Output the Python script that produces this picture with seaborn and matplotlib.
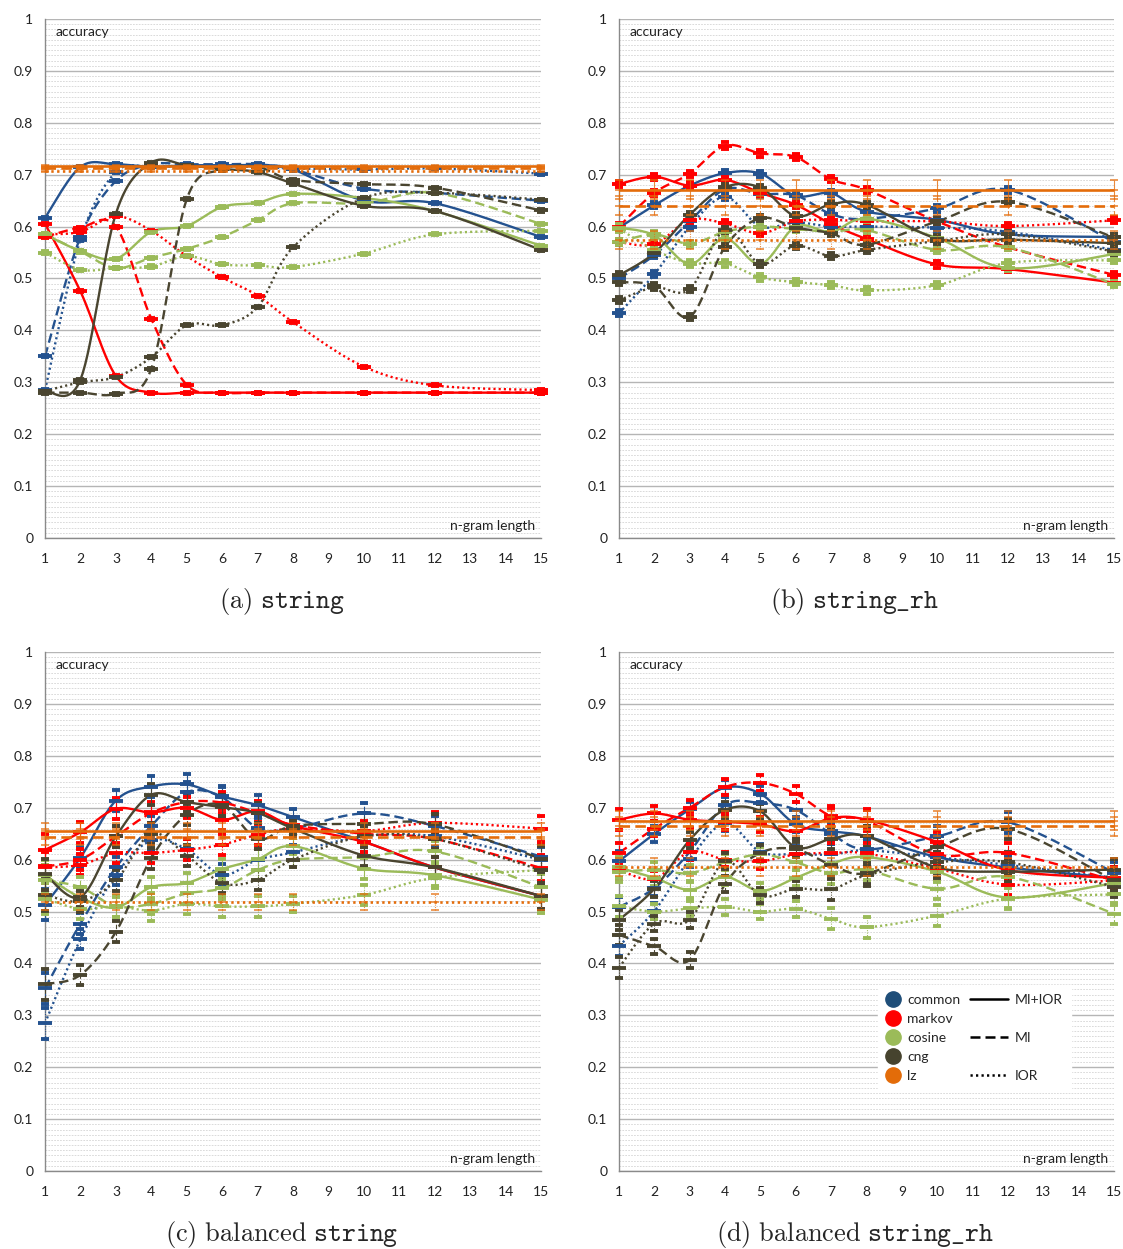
import numpy as np
import pandas as pd
import seaborn as sns
import matplotlib
matplotlib.use("Agg")
import matplotlib.pyplot as plt
from matplotlib.lines import Line2D
from matplotlib.ticker import MultipleLocator, FuncFormatter

# ---------------- data ----------------
NGRAM = [1, 2, 3, 4, 5, 6, 7, 8, 10, 12, 15]
METHODS = ["common", "markov", "cosine", "cng", "lz"]
VARIANTS = ["MI+IOR", "MI", "IOR"]

# panel (a) string
A_COMMON_MIIOR = [0.617, 0.715, 0.72, 0.715, 0.718, 0.718, 0.718, 0.71, 0.65, 0.645, 0.58]
A_COMMON_MI = [0.35, 0.58, 0.688, 0.72, 0.72, 0.72, 0.72, 0.71, 0.673, 0.665, 0.65]
A_COMMON_IOR = [0.285, 0.575, 0.705, 0.715, 0.715, 0.715, 0.715, 0.712, 0.71, 0.712, 0.702]
A_MARKOV_MIIOR = [0.605, 0.475, 0.312, 0.28, 0.28, 0.28, 0.28, 0.28, 0.28, 0.28, 0.28]
A_MARKOV_MI = [0.58, 0.598, 0.60, 0.422, 0.295, 0.28, 0.28, 0.28, 0.28, 0.28, 0.28]
A_MARKOV_IOR = [0.585, 0.59, 0.62, 0.592, 0.543, 0.502, 0.467, 0.416, 0.33, 0.294, 0.285]
A_COSINE_MIIOR = [0.585, 0.553, 0.538, 0.59, 0.601, 0.638, 0.646, 0.663, 0.655, 0.63, 0.563]
A_COSINE_MI = [0.585, 0.552, 0.52, 0.54, 0.557, 0.58, 0.612, 0.645, 0.645, 0.665, 0.605]
A_COSINE_IOR = [0.55, 0.517, 0.52, 0.523, 0.543, 0.527, 0.525, 0.522, 0.548, 0.585, 0.592]
A_CNG_MIIOR = [0.283, 0.305, 0.625, 0.723, 0.718, 0.711, 0.705, 0.683, 0.64, 0.63, 0.555]
A_CNG_MI = [0.28, 0.28, 0.278, 0.326, 0.653, 0.71, 0.715, 0.69, 0.682, 0.675, 0.631]
A_CNG_IOR = [0.283, 0.30, 0.31, 0.348, 0.41, 0.41, 0.445, 0.56, 0.655, 0.665, 0.652]
A_LZ = [0.716, 0.712, 0.708]
A_ERR = [0.002, 0.002, 0.002, 0.002, 0.002, 0.002, 0.002, 0.002, 0.002, 0.002, 0.002]

# panel (b) string_rh
B_COMMON_MIIOR = [0.598, 0.641, 0.679, 0.703, 0.702, 0.659, 0.664, 0.629, 0.613, 0.585, 0.58]
B_COMMON_MI = [0.50, 0.545, 0.61, 0.672, 0.663, 0.66, 0.624, 0.615, 0.635, 0.671, 0.57]
B_COMMON_IOR = [0.433, 0.508, 0.60, 0.657, 0.60, 0.608, 0.60, 0.60, 0.598, 0.59, 0.555]
B_MARKOV_MIIOR = [0.682, 0.696, 0.679, 0.69, 0.665, 0.642, 0.605, 0.576, 0.527, 0.518, 0.492]
B_MARKOV_MI = [0.60, 0.665, 0.702, 0.756, 0.741, 0.734, 0.691, 0.671, 0.61, 0.56, 0.507]
B_MARKOV_IOR = [0.57, 0.566, 0.613, 0.606, 0.587, 0.61, 0.613, 0.61, 0.61, 0.601, 0.612]
B_COSINE_MIIOR = [0.598, 0.583, 0.528, 0.577, 0.528, 0.60, 0.59, 0.615, 0.578, 0.52, 0.547]
B_COSINE_MI = [0.57, 0.585, 0.567, 0.59, 0.60, 0.595, 0.59, 0.593, 0.555, 0.56, 0.489]
B_COSINE_IOR = [0.596, 0.555, 0.53, 0.529, 0.502, 0.493, 0.487, 0.477, 0.487, 0.53, 0.535]
B_CNG_MIIOR = [0.506, 0.549, 0.623, 0.676, 0.675, 0.62, 0.643, 0.642, 0.577, 0.575, 0.568]
B_CNG_MI = [0.493, 0.485, 0.426, 0.561, 0.616, 0.598, 0.587, 0.565, 0.61, 0.648, 0.579]
B_CNG_IOR = [0.458, 0.483, 0.479, 0.594, 0.528, 0.563, 0.543, 0.555, 0.572, 0.585, 0.552]
B_LZ = [0.671, 0.64, 0.574]
B_ERR = [0.006, 0.006, 0.006, 0.006, 0.006, 0.006, 0.006, 0.006, 0.006, 0.006, 0.006]

# panel (c) balanced string
C_COMMON_MIIOR = [0.513, 0.604, 0.714, 0.741, 0.745, 0.722, 0.705, 0.682, 0.635, 0.585, 0.53]
C_COMMON_MI = [0.352, 0.477, 0.585, 0.665, 0.73, 0.72, 0.661, 0.66, 0.689, 0.665, 0.606]
C_COMMON_IOR = [0.285, 0.447, 0.571, 0.637, 0.62, 0.571, 0.60, 0.614, 0.645, 0.645, 0.60]
C_MARKOV_MIIOR = [0.619, 0.653, 0.698, 0.691, 0.70, 0.677, 0.693, 0.665, 0.634, 0.585, 0.53]
C_MARKOV_MI = [0.587, 0.60, 0.645, 0.69, 0.711, 0.71, 0.69, 0.667, 0.65, 0.64, 0.584]
C_MARKOV_IOR = [0.585, 0.59, 0.613, 0.613, 0.619, 0.629, 0.648, 0.66, 0.655, 0.671, 0.66]
C_COSINE_MIIOR = [0.57, 0.527, 0.508, 0.547, 0.555, 0.582, 0.601, 0.626, 0.583, 0.57, 0.523]
C_COSINE_MI = [0.56, 0.547, 0.51, 0.515, 0.535, 0.545, 0.58, 0.60, 0.605, 0.616, 0.547]
C_COSINE_IOR = [0.525, 0.505, 0.51, 0.502, 0.515, 0.51, 0.51, 0.515, 0.532, 0.565, 0.58]
C_CNG_MIIOR = [0.572, 0.528, 0.645, 0.725, 0.711, 0.701, 0.69, 0.66, 0.608, 0.585, 0.53]
C_CNG_MI = [0.36, 0.378, 0.461, 0.603, 0.687, 0.705, 0.64, 0.665, 0.669, 0.668, 0.602]
C_CNG_IOR = [0.532, 0.52, 0.56, 0.65, 0.608, 0.555, 0.561, 0.60, 0.645, 0.64, 0.58]
C_LZ = [0.655, 0.644, 0.518]
C_ERR = [0.03, 0.02, 0.02, 0.02, 0.02, 0.02, 0.02, 0.015, 0.02, 0.02, 0.025]

# panel (d) balanced string_rh
D_COMMON_MIIOR = [0.597, 0.65, 0.697, 0.739, 0.727, 0.668, 0.655, 0.645, 0.605, 0.585, 0.565]
D_COMMON_MI = [0.509, 0.545, 0.615, 0.705, 0.709, 0.696, 0.65, 0.62, 0.645, 0.672, 0.575]
D_COMMON_IOR = [0.434, 0.501, 0.601, 0.67, 0.615, 0.611, 0.61, 0.618, 0.605, 0.59, 0.565]
D_MARKOV_MIIOR = [0.677, 0.689, 0.677, 0.673, 0.668, 0.655, 0.68, 0.677, 0.634, 0.58, 0.565]
D_MARKOV_MI = [0.613, 0.66, 0.70, 0.74, 0.748, 0.727, 0.684, 0.675, 0.61, 0.613, 0.56]
D_MARKOV_IOR = [0.58, 0.563, 0.615, 0.60, 0.597, 0.61, 0.613, 0.612, 0.583, 0.552, 0.56]
D_COSINE_MIIOR = [0.585, 0.565, 0.542, 0.567, 0.54, 0.565, 0.592, 0.605, 0.577, 0.527, 0.555]
D_COSINE_MI = [0.577, 0.58, 0.574, 0.595, 0.61, 0.595, 0.574, 0.58, 0.544, 0.567, 0.496]
D_COSINE_IOR = [0.51, 0.50, 0.506, 0.509, 0.50, 0.505, 0.486, 0.47, 0.492, 0.525, 0.533]
D_CNG_MIIOR = [0.484, 0.544, 0.638, 0.696, 0.693, 0.624, 0.64, 0.645, 0.585, 0.577, 0.581]
D_CNG_MI = [0.455, 0.433, 0.407, 0.553, 0.613, 0.62, 0.59, 0.574, 0.624, 0.659, 0.56]
D_CNG_IOR = [0.392, 0.477, 0.484, 0.597, 0.531, 0.544, 0.543, 0.57, 0.595, 0.595, 0.548]
D_LZ = [0.675, 0.664, 0.586]
D_ERR = [0.02, 0.015, 0.015, 0.015, 0.015, 0.015, 0.02, 0.02, 0.02, 0.02, 0.02]

LZ_ERR = {"a": 0.002, "b": 0.018, "c": 0.015, "d": 0.018}

CAPTIONS = {
    "a": r"$\mathrm{(a)}\ \mathtt{string}$",
    "b": r"$\mathrm{(b)}\ \mathtt{string\_rh}$",
    "c": r"$\mathrm{(c)\ balanced}\ \mathtt{string}$",
    "d": r"$\mathrm{(d)\ balanced}\ \mathtt{string\_rh}$",
}

PANELS = {
    "a": ({"common": [A_COMMON_MIIOR, A_COMMON_MI, A_COMMON_IOR],
           "markov": [A_MARKOV_MIIOR, A_MARKOV_MI, A_MARKOV_IOR],
           "cosine": [A_COSINE_MIIOR, A_COSINE_MI, A_COSINE_IOR],
           "cng": [A_CNG_MIIOR, A_CNG_MI, A_CNG_IOR]}, A_LZ, A_ERR),
    "b": ({"common": [B_COMMON_MIIOR, B_COMMON_MI, B_COMMON_IOR],
           "markov": [B_MARKOV_MIIOR, B_MARKOV_MI, B_MARKOV_IOR],
           "cosine": [B_COSINE_MIIOR, B_COSINE_MI, B_COSINE_IOR],
           "cng": [B_CNG_MIIOR, B_CNG_MI, B_CNG_IOR]}, B_LZ, B_ERR),
    "c": ({"common": [C_COMMON_MIIOR, C_COMMON_MI, C_COMMON_IOR],
           "markov": [C_MARKOV_MIIOR, C_MARKOV_MI, C_MARKOV_IOR],
           "cosine": [C_COSINE_MIIOR, C_COSINE_MI, C_COSINE_IOR],
           "cng": [C_CNG_MIIOR, C_CNG_MI, C_CNG_IOR]}, C_LZ, C_ERR),
    "d": ({"common": [D_COMMON_MIIOR, D_COMMON_MI, D_COMMON_IOR],
           "markov": [D_MARKOV_MIIOR, D_MARKOV_MI, D_MARKOV_IOR],
           "cosine": [D_COSINE_MIIOR, D_COSINE_MI, D_COSINE_IOR],
           "cng": [D_CNG_MIIOR, D_CNG_MI, D_CNG_IOR]}, D_LZ, D_ERR),
}

# ---------------- style ----------------
COLORS = {"common": "#24528F", "markov": "#FF0000", "cosine": "#9BBB59",
          "cng": "#4A4530", "lz": "#E46C0A"}
LEG_COLORS = {"common": "#1F4E79", "markov": "#FF0000", "cosine": "#9BBB59",
              "cng": "#46432E", "lz": "#E36C09"}
LS = {"MI+IOR": "-", "MI": (0, (4, 2)), "IOR": (0, (0.9, 1.3))}

sns.set_style("white")
plt.rcParams["font.family"] = ["Lato", "DejaVu Sans"]
plt.rcParams["mathtext.fontset"] = "cm"

fig = plt.figure(figsize=(11.23, 12.49), dpi=100)
POS = {"a": [0.0401, 0.5693, 0.4417, 0.4155], "b": [0.5512, 0.5693, 0.4408, 0.4155],
       "c": [0.0401, 0.0624, 0.4417, 0.4155], "d": [0.5512, 0.0624, 0.4408, 0.4155]}
CAP_POS = {"a": (282, 601), "b": (855, 601), "c": (282, 1235), "d": (855, 1235)}


def smooth(xs, ys, n=16):
    """Excel-like smoothed line (cubic Bezier through the points)."""
    P = np.column_stack([np.asarray(xs, float), np.asarray(ys, float)])
    E = np.vstack([P[0], P, P[-1]])
    t = np.linspace(0, 1, n)[:, None]
    segs = []
    for i in range(len(P) - 1):
        p0, p3 = P[i], P[i + 1]
        c1 = p0 + (E[i + 2] - E[i]) / 6.0
        c2 = p3 - (E[i + 3] - E[i + 1]) / 6.0
        seg = (1 - t) ** 3 * p0 + 3 * (1 - t) ** 2 * t * c1 + 3 * (1 - t) * t ** 2 * c2 + t ** 3 * p3
        segs.append(seg if i == 0 else seg[1:])
    return np.vstack(segs)


def yfmt(v, _):
    if abs(v) < 1e-9:
        return "0"
    if abs(v - 1) < 1e-9:
        return "1"
    return f"{v:.1f}"


for key, (series, lz, err) in PANELS.items():
    ax = fig.add_axes(POS[key])
    ax.set_xlim(1, 15)
    ax.set_ylim(0, 1)
    ax.yaxis.set_major_locator(MultipleLocator(0.1))
    ax.yaxis.set_minor_locator(MultipleLocator(0.01))
    ax.yaxis.set_major_formatter(FuncFormatter(yfmt))
    ax.set_xticks(range(1, 16))
    ax.grid(which="major", axis="y", color="#b5b5b5", lw=1.0)
    ax.grid(which="minor", axis="y", color="#d4d4d4", lw=0.6, linestyle=(0, (2, 1.5)))
    ax.grid(which="major", axis="x", visible=False)
    ax.set_axisbelow(True)
    ax.tick_params(which="minor", length=0)
    ax.tick_params(axis="both", which="major", length=5, color="#8a8a8a", width=1,
                   labelsize=10, labelcolor="#222222", direction="out")
    ax.tick_params(axis="x", pad=6)
    for s in ["top", "right"]:
        ax.spines[s].set_visible(False)
    for s in ["left", "bottom"]:
        ax.spines[s].set_color("#8a8a8a")
        ax.spines[s].set_linewidth(1)

    for m, arrs in series.items():
        for v, y in zip(VARIANTS, arrs):
            pts = smooth(NGRAM, y)
            df = pd.DataFrame({"n": pts[:, 0], "acc": pts[:, 1]})
            sns.lineplot(data=df, x="n", y="acc", sort=False, estimator=None,
                         color=COLORS[m], lw=1.7, linestyle=LS[v], ax=ax, legend=False)
            eb = ax.errorbar(NGRAM, y, yerr=err, fmt="_", color=COLORS[m], ms=10, mew=2.8,
                             elinewidth=0.8, capsize=3, capthick=0.8, clip_on=False, zorder=3)
            eb[2][0].set_linestyle(LS[v])

    for v, val in zip(VARIANTS, lz):
        ax.axhline(val, color=COLORS["lz"], lw=1.9, linestyle=LS[v], zorder=4)
        eb = ax.errorbar(NGRAM, [val] * len(NGRAM), yerr=LZ_ERR[key], fmt="_",
                         color=COLORS["lz"], ms=6, mew=1.2, elinewidth=0.8, capsize=3,
                         capthick=0.8, clip_on=False, zorder=4, alpha=0.8)
        eb[2][0].set_linestyle(LS[v])

    ax.set_xlabel("")
    ax.set_ylabel("")
    ax.text(0.022, 0.975, "accuracy", transform=ax.transAxes, ha="left", va="center",
            fontsize=10, color="#222222")
    ax.text(0.988, 0.023, "n-gram length", transform=ax.transAxes, ha="right",
            va="center", fontsize=10, color="#222222")

    cx, cy = CAP_POS[key]
    fig.text(cx / 1123, 1 - cy / 1249, CAPTIONS[key], ha="center", va="center", fontsize=19)

    if key == "d":
        blank = Line2D([], [], linestyle="None", marker=None)
        m_handles = [Line2D([], [], linestyle="None", marker="o", markersize=11,
                            markerfacecolor=LEG_COLORS[m], markeredgecolor=LEG_COLORS[m])
                     for m in METHODS]
        leg1 = ax.legend(m_handles, METHODS, loc="upper left", bbox_to_anchor=(0.523, 0.358),
                         borderaxespad=0, frameon=True, framealpha=1, facecolor="white",
                         edgecolor="white", fancybox=False, fontsize=10, handlelength=1.0,
                         labelspacing=0.51, borderpad=0.6, handletextpad=0.5)
        leg1.set_zorder(10)
        ax.add_artist(leg1)
        v_handles = [Line2D([], [], color="black", lw=1.8, linestyle=LS["MI+IOR"]), blank,
                     Line2D([], [], color="black", lw=1.8, linestyle=LS["MI"]), blank,
                     Line2D([], [], color="black", lw=1.8, linestyle=LS["IOR"])]
        leg2 = ax.legend(v_handles, ["MI+IOR", "", "MI", "", "IOR"], loc="upper left",
                         bbox_to_anchor=(0.692, 0.358), borderaxespad=0, frameon=True,
                         framealpha=1, facecolor="white", edgecolor="white", fancybox=False,
                         fontsize=10, handlelength=2.73, labelspacing=0.51, borderpad=0.6,
                         handletextpad=0.5)
        leg2.set_zorder(10)

fig.savefig("out.png", dpi=100)
